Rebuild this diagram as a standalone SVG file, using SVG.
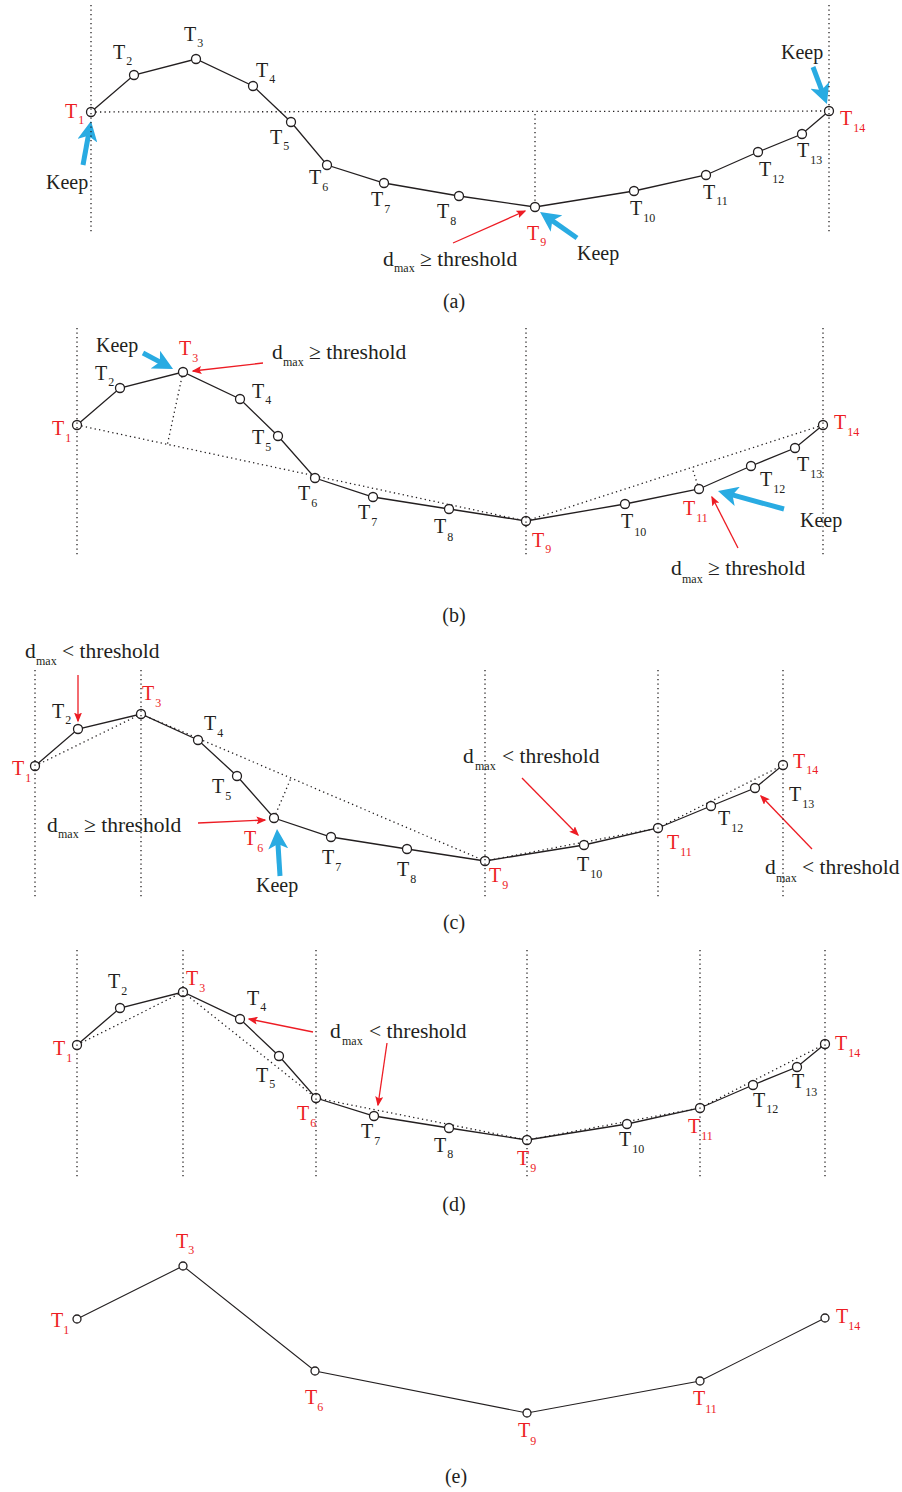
<svg xmlns="http://www.w3.org/2000/svg" width="902" height="1492" viewBox="0 0 902 1492">
<style>
.pl{fill:none;stroke:#231f20;stroke-width:1.3}
.pl2{fill:none;stroke:#231f20;stroke-width:1.1}
.dot{fill:none;stroke:#231f20;stroke-width:1.3;stroke-dasharray:1.3 3.2}
.nd{fill:#fff;stroke:#231f20;stroke-width:1.3}
.t{font-family:"Liberation Serif","Times New Roman",serif;font-size:20px;fill:#231f20}
.an{font-family:"Liberation Serif","Times New Roman",serif;font-size:21.5px;fill:#231f20}
.r{fill:#ed1c24}
.s{font-size:12px}
.cap{font-family:"Liberation Serif","Times New Roman",serif;font-size:20px;fill:#231f20;text-anchor:middle}
.ra{fill:none;stroke:#ed1c24;stroke-width:1.3;marker-end:url(#rh)}
.ba{fill:none;stroke:#29abe2;stroke-width:5;marker-end:url(#bh)}
</style>
<defs>
<marker id="rh" markerUnits="userSpaceOnUse" viewBox="0 0 10 8" markerWidth="10" markerHeight="8" refX="8.5" refY="4" orient="auto">
<path d="M0,0 L10,4 L0,8 L2,4 z" fill="#ed1c24"/>
</marker>
<marker id="bh" markerUnits="userSpaceOnUse" viewBox="0 0 20 20" markerWidth="20" markerHeight="20" refX="6" refY="10" orient="auto">
<path d="M0,0 L20,10 L0,20 L5,10 z" fill="#29abe2"/>
</marker>
</defs>
<rect width="902" height="1492" fill="#fff"/>

<g id="connectors">
<!-- panel a -->
<polyline class="pl" points="91,112 134,75 196,59 253,86 291,122 327,165 384,183 459,196 535,207 634,191 706,175 758,152 802,134 829,111"/>
<line class="dot" x1="91" y1="112" x2="829" y2="111"/>
<line class="ra" x1="453" y1="243" x2="525" y2="211"/>
<line class="ba" x1="83" y1="165" x2="88.5" y2="134.8"/>
<line class="ba" x1="813" y1="67" x2="822" y2="90.9"/>
<line class="ba" x1="577" y1="238" x2="551.5" y2="220.1"/>
<!-- panel b -->
<polyline class="pl" points="77,425 120,388 183,372 240,399 278,436 315,478 373,497 449,509 526,521 625,504 699,489 751,466 795,448 823,425"/>
<line class="dot" x1="77" y1="425" x2="526" y2="521"/>
<line class="dot" x1="526" y1="521" x2="823" y2="425"/>
<line class="dot" x1="183" y1="372" x2="167.5" y2="444"/>
<line class="dot" x1="699" y1="489" x2="692" y2="467.5"/>
<line class="ra" x1="263" y1="363" x2="193" y2="371"/>
<line class="ra" x1="738" y1="548" x2="712" y2="497"/>
<line class="ba" x1="143" y1="353" x2="160.7" y2="362.4"/>
<line class="ba" x1="784" y1="509" x2="731.5" y2="494.7"/>
<!-- panel c -->
<polyline class="pl" points="35,766 78,729 141,714 198,740 237,776 274,818 331,837 407,849 485,861 584,845 658,828 711,806 755,788 783,765"/>
<line class="dot" x1="35" y1="766" x2="141" y2="714"/>
<line class="dot" x1="141" y1="714" x2="485" y2="861"/>
<line class="dot" x1="274" y1="818" x2="291" y2="778"/>
<line class="dot" x1="485" y1="861" x2="658" y2="828"/>
<line class="dot" x1="658" y1="828" x2="783" y2="765"/>
<line class="ra" x1="78" y1="675" x2="78" y2="721"/>
<line class="ra" x1="198" y1="823" x2="265" y2="820"/>
<line class="ra" x1="522" y1="778" x2="578" y2="835"/>
<line class="ra" x1="812" y1="849" x2="761" y2="796"/>
<line class="ba" x1="280" y1="876" x2="277.9" y2="843"/>
<!-- panel d -->
<polyline class="pl" points="77,1045 120,1008 183,992 240,1019 279,1056 316,1098 374,1116 449,1128 527,1140 627,1124 700,1108 753,1085 797,1067 825,1044"/>
<line class="dot" x1="77" y1="1045" x2="183" y2="992"/>
<line class="dot" x1="183" y1="992" x2="316" y2="1098"/>
<line class="dot" x1="316" y1="1098" x2="527" y2="1140"/>
<line class="dot" x1="527" y1="1140" x2="700" y2="1108"/>
<line class="dot" x1="700" y1="1108" x2="825" y2="1044"/>
<line class="ra" x1="313" y1="1032" x2="249" y2="1019"/>
<line class="ra" x1="387" y1="1043" x2="378" y2="1105"/>
<!-- panel e -->
<polyline class="pl2" points="77,1319 183,1266 315,1371 527,1413 700,1381 825,1318"/>
</g>

<g id="panel-a">
<g id="a-T1"><circle class="nd" cx="91" cy="112" r="4.5"/><text class="t r" x="65" y="118">T<tspan class="s" dx="1" dy="6">1</tspan></text></g>
<g id="a-T2"><circle class="nd" cx="134" cy="75" r="4.5"/><text class="t" x="113" y="59">T<tspan class="s" dx="1" dy="6">2</tspan></text></g>
<g id="a-T3"><circle class="nd" cx="196" cy="59" r="4.5"/><text class="t" x="184" y="41">T<tspan class="s" dx="1" dy="6">3</tspan></text></g>
<g id="a-T4"><circle class="nd" cx="253" cy="86" r="4.5"/><text class="t" x="256" y="77">T<tspan class="s" dx="1" dy="6">4</tspan></text></g>
<g id="a-T5"><circle class="nd" cx="291" cy="122" r="4.5"/><text class="t" x="270" y="144">T<tspan class="s" dx="1" dy="6">5</tspan></text></g>
<g id="a-T6"><circle class="nd" cx="327" cy="165" r="4.5"/><text class="t" x="309" y="184">T<tspan class="s" dx="1" dy="7">6</tspan></text></g>
<g id="a-T7"><circle class="nd" cx="384" cy="183" r="4.5"/><text class="t" x="371" y="206">T<tspan class="s" dx="1" dy="7">7</tspan></text></g>
<g id="a-T8"><circle class="nd" cx="459" cy="196" r="4.5"/><text class="t" x="437" y="218">T<tspan class="s" dx="1" dy="7">8</tspan></text></g>
<g id="a-T9"><circle class="nd" cx="535" cy="207" r="4.5"/><text class="t r" x="527" y="240">T<tspan class="s" dx="1" dy="6">9</tspan></text></g>
<g id="a-T10"><circle class="nd" cx="634" cy="191" r="4.5"/><text class="t" x="630" y="215">T<tspan class="s" dx="1" dy="7">10</tspan></text></g>
<g id="a-T11"><circle class="nd" cx="706" cy="175" r="4.5"/><text class="t" x="703" y="199">T<tspan class="s" dx="1" dy="6">11</tspan></text></g>
<g id="a-T12"><circle class="nd" cx="758" cy="152" r="4.5"/><text class="t" x="759" y="176">T<tspan class="s" dx="1" dy="7">12</tspan></text></g>
<g id="a-T13"><circle class="nd" cx="802" cy="134" r="4.5"/><text class="t" x="797" y="157">T<tspan class="s" dx="1" dy="7">13</tspan></text></g>
<g id="a-T14"><circle class="nd" cx="829" cy="111" r="4.5"/><text class="t r" x="840" y="125">T<tspan class="s" dx="1" dy="7">14</tspan></text></g>
<text class="t" x="46" y="189">Keep</text>
<text class="t" x="781" y="59">Keep</text>
<text class="t" x="577" y="260">Keep</text>
<text class="an" x="383" y="266">d<tspan class="s" x="394" y="272">max</tspan><tspan x="420" y="266">≥ threshold</tspan></text>
<text class="cap" x="454" y="308">(a)</text>
</g>

<g id="panel-b">
<g id="b-T1"><circle class="nd" cx="77" cy="425" r="4.5"/><text class="t r" x="52" y="435">T<tspan class="s" dx="1" dy="7">1</tspan></text></g>
<g id="b-T2"><circle class="nd" cx="120" cy="388" r="4.5"/><text class="t" x="95" y="380">T<tspan class="s" dx="1" dy="6">2</tspan></text></g>
<g id="b-T3"><circle class="nd" cx="183" cy="372" r="4.5"/><text class="t r" x="179" y="355">T<tspan class="s" dx="1" dy="7">3</tspan></text></g>
<g id="b-T4"><circle class="nd" cx="240" cy="399" r="4.5"/><text class="t" x="252" y="398">T<tspan class="s" dx="1" dy="6">4</tspan></text></g>
<g id="b-T5"><circle class="nd" cx="278" cy="436" r="4.5"/><text class="t" x="252" y="444">T<tspan class="s" dx="1" dy="7">5</tspan></text></g>
<g id="b-T6"><circle class="nd" cx="315" cy="478" r="4.5"/><text class="t" x="298" y="500">T<tspan class="s" dx="1" dy="7">6</tspan></text></g>
<g id="b-T7"><circle class="nd" cx="373" cy="497" r="4.5"/><text class="t" x="358" y="519">T<tspan class="s" dx="1" dy="7">7</tspan></text></g>
<g id="b-T8"><circle class="nd" cx="449" cy="509" r="4.5"/><text class="t" x="434" y="533">T<tspan class="s" dx="1" dy="8">8</tspan></text></g>
<g id="b-T9"><circle class="nd" cx="526" cy="521" r="4.5"/><text class="t r" x="532" y="547">T<tspan class="s" dx="1" dy="6">9</tspan></text></g>
<g id="b-T10"><circle class="nd" cx="625" cy="504" r="4.5"/><text class="t" x="621" y="528">T<tspan class="s" dx="1" dy="8">10</tspan></text></g>
<g id="b-T11"><circle class="nd" cx="699" cy="489" r="4.5"/><text class="t r" x="683" y="515">T<tspan class="s" dx="1" dy="7">11</tspan></text></g>
<g id="b-T12"><circle class="nd" cx="751" cy="466" r="4.5"/><text class="t" x="760" y="486">T<tspan class="s" dx="1" dy="7">12</tspan></text></g>
<g id="b-T13"><circle class="nd" cx="795" cy="448" r="4.5"/><text class="t" x="797" y="471">T<tspan class="s" dx="1" dy="7">13</tspan></text></g>
<g id="b-T14"><circle class="nd" cx="823" cy="425" r="4.5"/><text class="t r" x="834" y="429">T<tspan class="s" dx="1" dy="7">14</tspan></text></g>
<text class="t" x="96" y="352">Keep</text>
<text class="t" x="800" y="527">Keep</text>
<text class="an" x="272" y="359">d<tspan class="s" x="283" y="366">max</tspan><tspan x="309" y="359">≥ threshold</tspan></text>
<text class="an" x="671" y="575">d<tspan class="s" x="682" y="583">max</tspan><tspan x="708" y="575">≥ threshold</tspan></text>
<text class="cap" x="454" y="622">(b)</text>
</g>

<g id="panel-c">
<g id="c-T1"><circle class="nd" cx="35" cy="766" r="4.5"/><text class="t r" x="12" y="775">T<tspan class="s" dx="1" dy="7">1</tspan></text></g>
<g id="c-T2"><circle class="nd" cx="78" cy="729" r="4.5"/><text class="t" x="52" y="718">T<tspan class="s" dx="1" dy="6">2</tspan></text></g>
<g id="c-T3"><circle class="nd" cx="141" cy="714" r="4.5"/><text class="t r" x="142" y="700">T<tspan class="s" dx="1" dy="7">3</tspan></text></g>
<g id="c-T4"><circle class="nd" cx="198" cy="740" r="4.5"/><text class="t" x="204" y="730">T<tspan class="s" dx="1" dy="7">4</tspan></text></g>
<g id="c-T5"><circle class="nd" cx="237" cy="776" r="4.5"/><text class="t" x="212" y="793">T<tspan class="s" dx="1" dy="7">5</tspan></text></g>
<g id="c-T6"><circle class="nd" cx="274" cy="818" r="4.5"/><text class="t r" x="244" y="845">T<tspan class="s" dx="1" dy="7">6</tspan></text></g>
<g id="c-T7"><circle class="nd" cx="331" cy="837" r="4.5"/><text class="t" x="322" y="864">T<tspan class="s" dx="1" dy="7">7</tspan></text></g>
<g id="c-T8"><circle class="nd" cx="407" cy="849" r="4.5"/><text class="t" x="397" y="876">T<tspan class="s" dx="1" dy="7">8</tspan></text></g>
<g id="c-T9"><circle class="nd" cx="485" cy="861" r="4.5"/><text class="t r" x="489" y="882">T<tspan class="s" dx="1" dy="7">9</tspan></text></g>
<g id="c-T10"><circle class="nd" cx="584" cy="845" r="4.5"/><text class="t" x="577" y="871">T<tspan class="s" dx="1" dy="7">10</tspan></text></g>
<g id="c-T11"><circle class="nd" cx="658" cy="828" r="4.5"/><text class="t r" x="667" y="849">T<tspan class="s" dx="1" dy="7">11</tspan></text></g>
<g id="c-T12"><circle class="nd" cx="711" cy="806" r="4.5"/><text class="t" x="718" y="825">T<tspan class="s" dx="1" dy="7">12</tspan></text></g>
<g id="c-T13"><circle class="nd" cx="755" cy="788" r="4.5"/><text class="t" x="789" y="801">T<tspan class="s" dx="1" dy="7">13</tspan></text></g>
<g id="c-T14"><circle class="nd" cx="783" cy="765" r="4.5"/><text class="t r" x="793" y="768">T<tspan class="s" dx="1" dy="6">14</tspan></text></g>
<text class="t" x="256" y="892">Keep</text>
<text class="an" x="25" y="658">d<tspan class="s" x="36" y="665">max</tspan><tspan x="62" y="658">&lt; threshold</tspan></text>
<text class="an" x="47" y="832">d<tspan class="s" x="58" y="838">max</tspan><tspan x="84" y="832">≥ threshold</tspan></text>
<text class="an" x="463" y="763">d<tspan class="s" x="475" y="770">max</tspan><tspan x="502" y="763">&lt; threshold</tspan></text>
<text class="an" x="765" y="874">d<tspan class="s" x="776" y="882">max</tspan><tspan x="802" y="874">&lt; threshold</tspan></text>
<text class="cap" x="454" y="929">(c)</text>
</g>

<g id="panel-d">
<g id="d-T1"><circle class="nd" cx="77" cy="1045" r="4.5"/><text class="t r" x="53" y="1055">T<tspan class="s" dx="1" dy="7">1</tspan></text></g>
<g id="d-T2"><circle class="nd" cx="120" cy="1008" r="4.5"/><text class="t" x="108" y="988">T<tspan class="s" dx="1" dy="7">2</tspan></text></g>
<g id="d-T3"><circle class="nd" cx="183" cy="992" r="4.5"/><text class="t r" x="186" y="985">T<tspan class="s" dx="1" dy="7">3</tspan></text></g>
<g id="d-T4"><circle class="nd" cx="240" cy="1019" r="4.5"/><text class="t" x="247" y="1005">T<tspan class="s" dx="1" dy="6">4</tspan></text></g>
<g id="d-T5"><circle class="nd" cx="279" cy="1056" r="4.5"/><text class="t" x="256" y="1082">T<tspan class="s" dx="1" dy="6">5</tspan></text></g>
<g id="d-T6"><circle class="nd" cx="316" cy="1098" r="4.5"/><text class="t r" x="297" y="1120">T<tspan class="s" dx="1" dy="7">6</tspan></text></g>
<g id="d-T7"><circle class="nd" cx="374" cy="1116" r="4.5"/><text class="t" x="361" y="1138">T<tspan class="s" dx="1" dy="7">7</tspan></text></g>
<g id="d-T8"><circle class="nd" cx="449" cy="1128" r="4.5"/><text class="t" x="434" y="1152">T<tspan class="s" dx="1" dy="6">8</tspan></text></g>
<g id="d-T9"><circle class="nd" cx="527" cy="1140" r="4.5"/><text class="t r" x="517" y="1165">T<tspan class="s" dx="1" dy="7">9</tspan></text></g>
<g id="d-T10"><circle class="nd" cx="627" cy="1124" r="4.5"/><text class="t" x="619" y="1146">T<tspan class="s" dx="1" dy="7">10</tspan></text></g>
<g id="d-T11"><circle class="nd" cx="700" cy="1108" r="4.5"/><text class="t r" x="688" y="1133">T<tspan class="s" dx="1" dy="7">11</tspan></text></g>
<g id="d-T12"><circle class="nd" cx="753" cy="1085" r="4.5"/><text class="t" x="753" y="1107">T<tspan class="s" dx="1" dy="6">12</tspan></text></g>
<g id="d-T13"><circle class="nd" cx="797" cy="1067" r="4.5"/><text class="t" x="792" y="1088">T<tspan class="s" dx="1" dy="8">13</tspan></text></g>
<g id="d-T14"><circle class="nd" cx="825" cy="1044" r="4.5"/><text class="t r" x="835" y="1050">T<tspan class="s" dx="1" dy="7">14</tspan></text></g>
<text class="an" x="330" y="1038">d<tspan class="s" x="342" y="1045">max</tspan><tspan x="369" y="1038">&lt; threshold</tspan></text>
<text class="cap" x="454" y="1211">(d)</text>
</g>

<g id="panel-e">
<g id="e-T1"><circle class="nd" cx="77" cy="1319" r="4"/><text class="t r" x="51" y="1327">T<tspan class="s" dx="0" dy="7">1</tspan></text></g>
<g id="e-T3"><circle class="nd" cx="183" cy="1266" r="4"/><text class="t r" x="176" y="1248">T<tspan class="s" dx="0" dy="6">3</tspan></text></g>
<g id="e-T6"><circle class="nd" cx="315" cy="1371" r="4"/><text class="t r" x="305" y="1404">T<tspan class="s" dx="0" dy="7">6</tspan></text></g>
<g id="e-T9"><circle class="nd" cx="527" cy="1413" r="4"/><text class="t r" x="518" y="1437">T<tspan class="s" dx="0" dy="8">9</tspan></text></g>
<g id="e-T11"><circle class="nd" cx="700" cy="1381" r="4"/><text class="t r" x="693" y="1405">T<tspan class="s" dx="0" dy="8">11</tspan></text></g>
<g id="e-T14"><circle class="nd" cx="825" cy="1318" r="4"/><text class="t r" x="836" y="1323">T<tspan class="s" dx="0" dy="7">14</tspan></text></g>
<text class="cap" x="456" y="1483">(e)</text>
</g>

<g id="guides">
<line class="dot" x1="91" y1="5" x2="91" y2="233"/>
<line class="dot" x1="829" y1="5" x2="829" y2="233"/>
<line class="dot" x1="535" y1="114" x2="535" y2="202"/>
<line class="dot" x1="77" y1="328" x2="77" y2="556"/>
<line class="dot" x1="526" y1="328" x2="526" y2="556"/>
<line class="dot" x1="823" y1="328" x2="823" y2="556"/>
<line class="dot" x1="35" y1="670" x2="35" y2="898"/>
<line class="dot" x1="141" y1="670" x2="141" y2="898"/>
<line class="dot" x1="485" y1="670" x2="485" y2="898"/>
<line class="dot" x1="658" y1="670" x2="658" y2="898"/>
<line class="dot" x1="783" y1="670" x2="783" y2="898"/>
<line class="dot" x1="77" y1="950" x2="77" y2="1178"/>
<line class="dot" x1="183" y1="950" x2="183" y2="1178"/>
<line class="dot" x1="316" y1="950" x2="316" y2="1178"/>
<line class="dot" x1="527" y1="950" x2="527" y2="1178"/>
<line class="dot" x1="700" y1="950" x2="700" y2="1178"/>
<line class="dot" x1="825" y1="950" x2="825" y2="1178"/>
</g>
</svg>
